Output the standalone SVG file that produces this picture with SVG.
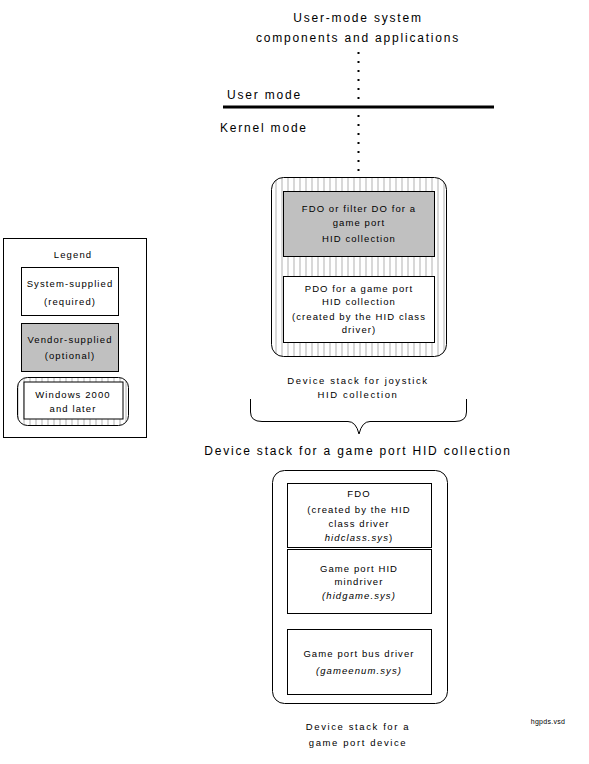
<svg xmlns="http://www.w3.org/2000/svg" width="589" height="764" viewBox="0 0 589 764">
<style>
text{font-family:"Liberation Sans",Arial,sans-serif;fill:#000;text-anchor:middle}
.big{font-size:12px;letter-spacing:1.8px}
.sm{font-size:9.5px;letter-spacing:1.1px}
.lb{font-size:9.5px;letter-spacing:1.6px}
.it{font-style:italic}
.box{fill:#fff;stroke:#000;stroke-width:1}
.gray{fill:#c0c0c0;stroke:#000;stroke-width:1}
.ln{stroke:#000;stroke-width:1;fill:none}
</style>
<defs>
<pattern id="hatch" patternUnits="userSpaceOnUse" x="0.5" y="0" width="6" height="10">
<rect width="6" height="10" fill="#fff"/>
<line x1="5.5" y1="0" x2="5.5" y2="10" stroke="#b0b0b0" stroke-width="1"/>
</pattern>
</defs>
<rect width="589" height="764" fill="#fff"/>

<g id="title">
<text class="big" x="358" y="22">User-mode system</text>
<text class="big" x="358" y="42">components and applications</text>
</g>
<g id="modes">
<line x1="223" y1="107" x2="494" y2="107" stroke="#000" stroke-width="3"/>
<text class="big" x="227" y="99" style="text-anchor:start">User mode</text>
<text class="big" x="220" y="132" style="text-anchor:start">Kernel mode</text>
</g>

<g id="connectors">
<line x1="358.5" y1="52" x2="358.5" y2="174" stroke="#000" stroke-width="2" stroke-dasharray="2 7"/>
<line class="ln" x1="358.5" y1="256" x2="358.5" y2="276"/>
<line class="ln" x1="359.5" y1="613" x2="359.5" y2="629"/>
</g>

<g id="joystick-stack">
<rect x="271.5" y="177.5" width="175" height="179" rx="12" fill="url(#hatch)" stroke="#000"/>
<text class="lb" x="358" y="384">Device stack for joystick</text>
<text class="lb" x="358" y="398">HID  collection</text>
</g>
<g id="fdo-filter">
<rect class="gray" x="283.5" y="191.5" width="151" height="65"/>
<text class="sm" x="359" y="212">FDO or filter DO for a</text>
<text class="sm" x="359" y="225.5">game port</text>
<text class="sm" x="359" y="242">HID collection</text>
</g>
<g id="pdo">
<rect class="box" x="283.5" y="276.5" width="151" height="66"/>
<text class="sm" x="359" y="291.5">PDO for a game port</text>
<text class="sm" x="359" y="304.5">HID collection</text>
<text class="sm" x="359" y="320">(created by the HID class</text>
<text class="sm" x="359" y="333">driver)</text>
</g>

<g id="brace">
<path class="ln" d="M250.5,399 V412 Q250.5,421.5 262,421.5 H348 Q356,421.5 359,434 Q362,421.5 370,421.5 H455 Q466.5,421.5 466.5,412 V399"/>
<text class="big" x="358" y="455">Device stack for a game port HID collection</text>
</g>

<g id="gameport-stack">
<rect class="box" x="272.5" y="470.5" width="175" height="233" rx="12"/>
<text class="lb" x="358" y="729.5">Device stack for a</text>
<text class="lb" x="358" y="745.5">game port device</text>
</g>
<g id="fdo-hidclass">
<rect class="box" x="287.5" y="483.5" width="144" height="64"/>
<text class="sm" x="359" y="497">FDO</text>
<text class="sm" x="359" y="512.5">(created by the HID</text>
<text class="sm" x="359" y="526.5">class driver</text>
<text class="sm" x="359" y="540.5"><tspan class="it">hidclass.sys</tspan>)</text>
</g>
<g id="hidgame">
<rect class="box" x="287.5" y="549.5" width="144" height="64"/>
<text class="sm" x="359" y="571.5">Game port HID</text>
<text class="sm" x="359" y="585">mindriver</text>
<text class="sm it" x="359" y="599">(hidgame.sys)</text>
</g>
<g id="gameenum">
<rect class="box" x="287.5" y="629.5" width="144" height="65"/>
<text class="sm" x="359" y="656.5">Game port bus driver</text>
<text class="sm it" x="359" y="673.5">(gameenum.sys)</text>
</g>

<g id="legend">
<rect class="box" x="3.5" y="238.5" width="143" height="199"/>
<text class="sm" x="73" y="257.5">Legend</text>
<rect class="box" x="21.5" y="267.5" width="97" height="48"/>
<text class="sm" x="70" y="286.5">System-supplied</text>
<text class="sm" x="70" y="304.5">(required)</text>
<rect class="gray" x="21.5" y="323.5" width="97" height="48"/>
<text class="sm" x="70" y="342.5">Vendor-supplied</text>
<text class="sm" x="70" y="358.5">(optional)</text>
<rect x="17.5" y="377.5" width="111" height="48" rx="10" fill="url(#hatch)" stroke="#000"/>
<rect class="box" x="24" y="382" width="99" height="37" stroke-width="2"/>
<text class="sm" x="73" y="397.5">Windows 2000</text>
<text class="sm" x="73" y="411.5">and later</text>
</g>

<g id="filename">
<text x="548" y="724" style="font-size:7px;letter-spacing:0.3px">hgpds.vsd</text>
</g>
</svg>
